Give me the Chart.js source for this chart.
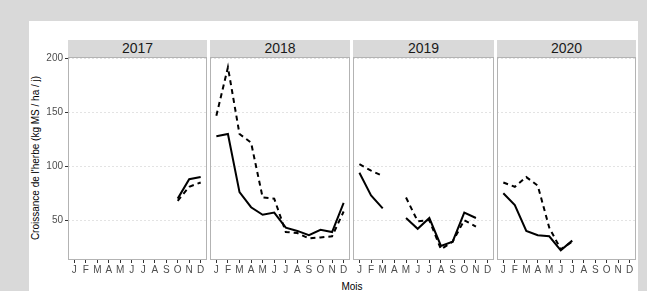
<!DOCTYPE html>
<html>
<head>
<meta charset="utf-8">
<script src="https://cdn.jsdelivr.net/npm/chart.js@4"></script>
<style>
  body { margin: 0; width: 647px; height: 291px; background: #d9d9d9; position: relative; overflow: hidden;
         font-family: "Liberation Sans", Arial, sans-serif; }
  #fond { position: absolute; left: 29px; top: 21px; width: 609px; height: 270px; background: #fff; }
  canvas { position: absolute; top: 40px; }
  .bande { position: absolute; top: 40px; height: 17px; line-height: 17px; background: #d9d9d9;
           text-align: center; font-size: 14px; color: #1a1a1a; }
  #titre-y { position: absolute; left: 35px; top: 158px; font-size: 10px; color: #000; white-space: nowrap;
             transform: translate(-50%, -50%) rotate(-90deg); }
  #titre-x { position: absolute; left: 352px; top: 286px; font-size: 10px; color: #000;
             transform: translate(-50%, -50%); }
</style>
</head>
<body>
<div id="fond"></div>
<div id="titre-y">Croissance de l'herbe (kg MS / ha / j)</div>
<div id="titre-x">Mois</div>

<script>
// ── Données ───────────────────────────────────────────────────────────────────
const mois = ["J","F","M","A","M","J","J","A","S","O","N","D"];
const annees = ["2017", "2018", "2019", "2020"];
const graduationsY = [50, 100, 150, 200];

const pleine2017 = [null, null, null, null, null, null, null, null, null, 70, 88, 90];
const tirets2017 = [null, null, null, null, null, null, null, null, null, 68, 81, 85];
const pleine2018 = [128, 130, 76, 62, 55, 57, 43, 40, 36, 41, 39, 66];
const tirets2018 = [147, 192, 130, 122, 71, 70, 39, 38, 33, 34, 35, 58];
const pleine2019 = [94, 73, 61, null, 52, 42, 52, 26, 30, 57, 52, null];
const tirets2019 = [102, 96, 91, null, 71, 49, 50, 23, 30, 50, 44, null];
const pleine2020 = [75, 64, 40, 36, 35, 22, 31, null, null, null, null, null];
const tirets2020 = [85, 81, 90, 82, 43, 23, 30, null, null, null, null, null];

const series = {
  "2017": [pleine2017, tirets2017],
  "2018": [pleine2018, tirets2018],
  "2019": [pleine2019, tirets2019],
  "2020": [pleine2020, tirets2020]
};

// ── Mise en page des facettes ─────────────────────────────────────────────────
const facettes = [
  { left: 29,  width: 178, axeY: 39 },
  { left: 210, width: 140, axeY: 0 },
  { left: 353, width: 141, axeY: 0 },
  { left: 497, width: 139, axeY: 0 }
];

const cadre = {
  id: "cadre",
  afterDraw(chart) {
    const { ctx, chartArea: a } = chart;
    ctx.save();
    ctx.strokeStyle = "#b3b3b3";
    ctx.lineWidth = 1;
    ctx.strokeRect(a.left + 0.5, a.top + 0.5, a.right - a.left - 1, a.bottom - a.top - 1);
    ctx.restore();
  }
};

annees.forEach((an, i) => {
  const f = facettes[i];
  const cv = document.createElement("canvas");
  cv.width = f.width;
  cv.height = 251;
  cv.style.left = f.left + "px";
  document.body.appendChild(cv);

  const bande = document.createElement("div");
  bande.className = "bande";
  bande.style.left = (f.left + f.axeY) + "px";
  bande.style.width = (f.width - f.axeY) + "px";
  bande.textContent = an;
  document.body.appendChild(bande);

  const [pleine, tirets] = series[an];
  const pts = arr => arr.map((v, k) => ({ x: k + 1, y: v }));

  new Chart(cv, {
    type: "line",
    data: {
      datasets: [
        { data: pts(pleine), borderColor: "#000", borderWidth: 2, pointRadius: 0, tension: 0, spanGaps: false },
        { data: pts(tirets), borderColor: "#000", borderWidth: 2, borderDash: [5, 4], pointRadius: 0, tension: 0, spanGaps: false }
      ]
    },
    options: {
      responsive: false,
      animation: false,
      devicePixelRatio: 1,
      layout: { padding: { top: 17, left: 0, right: 0, bottom: 0 } },
      plugins: { legend: { display: false }, tooltip: { enabled: false } },
      scales: {
        x: {
          type: "linear",
          min: 0.45,
          max: 12.55,
          afterBuildTicks: s => { s.ticks = mois.map((m, k) => ({ value: k + 1 })); },
          afterFit: s => { s.height = 31; },
          ticks: {
            callback: v => mois[v - 1],
            color: "#4d4d4d",
            font: { family: "Liberation Sans", size: 10 },
            padding: 1,
            maxRotation: 0,
            autoSkip: false
          },
          grid: { drawOnChartArea: false, drawTicks: true, tickLength: 3, tickColor: "#333" },
          border: { display: false }
        },
        y: {
          min: 13,
          max: 201.5,
          afterBuildTicks: s => { s.ticks = graduationsY.map(v => ({ value: v })); },
          afterFit: s => { s.width = f.axeY; },
          ticks: {
            display: f.axeY > 0,
            color: "#4d4d4d",
            font: { family: "Liberation Sans", size: 10 },
            padding: 2
          },
          grid: {
            color: "#e3e3e3",
            drawTicks: f.axeY > 0,
            tickLength: 3,
            tickColor: "#333",
            tickBorderDash: []
          },
          border: { display: false, dash: [2, 2] }
        }
      }
    },
    plugins: [cadre]
  });
});
</script>
</body>
</html>
